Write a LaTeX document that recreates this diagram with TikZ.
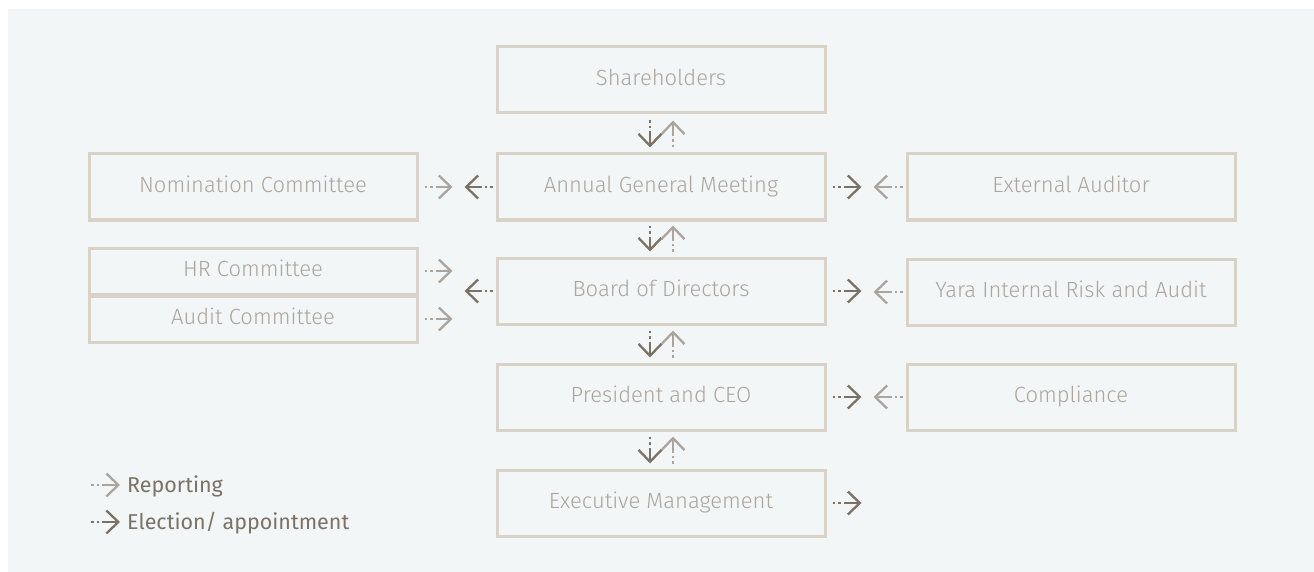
\documentclass[tikz,border=0pt]{standalone}
\usepackage{fontspec}
\setmainfont{Fira Sans}[UprightFont={* Light}]
\newfontfamily\legendfont{Fira Sans}
\usetikzlibrary{arrows.meta,calc}

\definecolor{pagebg}{HTML}{F3F6F7}
\definecolor{framec}{HTML}{D9D2C9}
\definecolor{labelc}{HTML}{ACA59E}
\definecolor{lightarr}{HTML}{ACA59E}
\definecolor{darkarr}{HTML}{7B7266}

\tikzset{
  orgbox/.style={draw=framec, line width=3pt, fill=none, text=labelc,
    minimum width=328pt, minimum height=66pt, inner sep=0pt,
    text height=15.5pt, text depth=4.5pt,
    font=\fontsize{22}{26}\selectfont},
  halfbox/.style={orgbox, minimum height=46pt},
  reparrow/.style={lightarr},
  elecarrow/.style={darkarr},
  dotpart/.style={line width=2.5pt, dash pattern=on 2.5pt off 3pt},
  linepart/.style={line width=2.3pt, -{Straight Barb[length=12pt,width=23pt]}},
  legendtext/.style={anchor=west, text=darkarr, inner sep=0pt,
    font=\legendfont\fontsize{21.5}{25}\selectfont},
}

% dotted tail followed by a solid shaft with an open chevron head
\newcommand\dotarrow[3]{%
  \draw[#1, dotpart] (#2) -- ($(#2)!8pt!(#3)$);
  \draw[#1, linepart] ($(#2)!11pt!(#3)$) -- (#3);
}

\begin{document}
\begin{tikzpicture}[x=1pt, y=-1pt]
  \useasboundingbox (0,0) rectangle (1314,572);
  \fill[pagebg] (8,9) rectangle (1314,572);

  % central column
  \node[orgbox] (sh)   at (661,80)  {Shareholders};
  \node[orgbox] (agm)  at (661,187) {Annual General Meeting};
  \node[orgbox] (bod)  at (661,291) {Board of Directors};
  \node[orgbox] (ceo)  at (661,397) {President and CEO};
  \node[orgbox] (exec) at (661,503) {Executive Management};

  % left column
  \node[orgbox] (nom) at (253,187) {Nomination Committee};
  \node[halfbox] (hr)  at (253,271) {HR Committee};
  \node[halfbox] (aud) at (253,319) {Audit Committee};

  % right column
  \node[orgbox] (ext)  at (1071,187) {External Auditor};
  \node[orgbox] (yira) at (1071,292) {Yara Internal Risk and Audit};
  \node[orgbox] (comp) at (1071,397) {Compliance};

  % vertical pairs between the central boxes
  \foreach \up/\dn/\gap in {sh/agm/6, agm/bod/4, bod/ceo/5, ceo/exec/5}{
    \coordinate (da) at ([xshift=-11pt,yshift=-\gap pt]\up.south);
    \coordinate (db) at ([xshift=-11pt,yshift=5pt]\dn.north);
    \coordinate (ua) at ([xshift=12pt,yshift=5pt]\dn.north);
    \coordinate (ub) at ([xshift=12pt,yshift=-\gap pt]\up.south);
    \dotarrow{elecarrow}{da}{db}
    \dotarrow{reparrow}{ua}{ub}
  }

  % left side
  \coordinate (n1) at ([xshift=6pt]nom.east);
  \coordinate (n2) at ([xshift=34pt]nom.east);
  \coordinate (n3) at ([xshift=-3pt]agm.west);
  \coordinate (n4) at ([xshift=-31pt]agm.west);
  \dotarrow{reparrow}{n1}{n2}
  \dotarrow{elecarrow}{n3}{n4}

  \coordinate (h1) at ([xshift=6pt]hr.east);
  \coordinate (h2) at ([xshift=34pt]hr.east);
  \coordinate (a1) at ([xshift=6pt]aud.east);
  \coordinate (a2) at ([xshift=34pt]aud.east);
  \coordinate (b1) at ([xshift=-3pt]bod.west);
  \coordinate (b2) at ([xshift=-31pt]bod.west);
  \dotarrow{reparrow}{h1}{h2}
  \dotarrow{reparrow}{a1}{a2}
  \dotarrow{elecarrow}{b1}{b2}

  % right side
  \foreach \mid/\side in {agm/ext, bod/yira, ceo/comp}{
    \coordinate (r1) at ([xshift=6pt]\mid.east);
    \coordinate (r2) at ([xshift=35pt]\mid.east);
    \coordinate (r3) at ([xshift=-3pt]\side.west);
    \coordinate (r4) at ([xshift=-32pt]\side.west);
    \dotarrow{elecarrow}{r1}{r2}
    \dotarrow{reparrow}{r3}{r4}
  }
  \coordinate (e1) at ([xshift=6pt]exec.east);
  \coordinate (e2) at ([xshift=35pt]exec.east);
  \dotarrow{elecarrow}{e1}{e2}

  % legend
  \coordinate (lr1) at (91,485);
  \coordinate (lr2) at (120,485);
  \coordinate (le1) at (91,522);
  \coordinate (le2) at (120,522);
  \dotarrow{reparrow}{lr1}{lr2}
  \dotarrow{elecarrow}{le1}{le2}
  \node[legendtext] (lrep) at (127,486) {Reporting};
  \node[legendtext] (lele) at (127,523) {Election/ appointment};
\end{tikzpicture}
\end{document}
